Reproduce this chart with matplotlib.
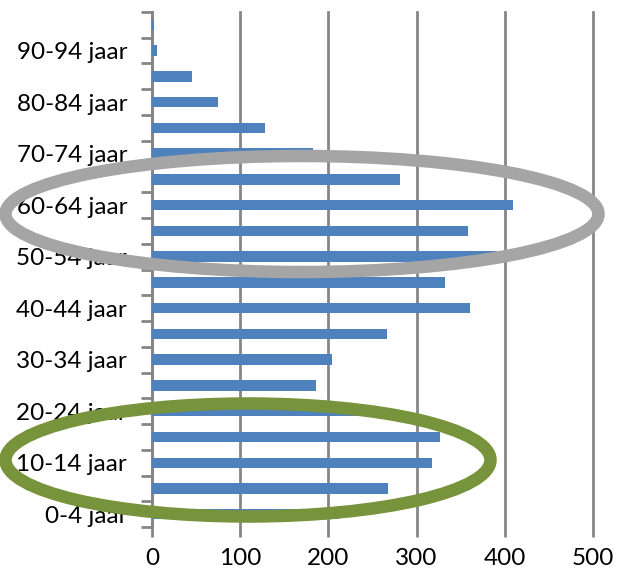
import matplotlib.pyplot as plt
import numpy as np
from matplotlib.patches import Ellipse

groepen = ['0-4 jaar', '5-9 jaar', '10-14 jaar', '15-19 jaar', '20-24 jaar',
           '25-29 jaar', '30-34 jaar', '35-39 jaar', '40-44 jaar', '45-49 jaar',
           '50-54 jaar', '55-59 jaar', '60-64 jaar', '65-69 jaar', '70-74 jaar',
           '75-79 jaar', '80-84 jaar', '85-89 jaar', '90-94 jaar', '95+ jaar']
aantallen = [212, 268, 318, 326, 242, 186, 204, 266, 360, 332,
             391, 358, 409, 281, 182, 128, 75, 45, 6, 2]

plt.rcParams['font.family'] = ['Lato', 'DejaVu Sans']

fig = plt.figure(figsize=(6.17, 5.71), dpi=100)
ax = fig.add_axes([0.2464, 0.077, 0.7147, 0.902])

y = np.arange(len(groepen))
ax.barh(y, aantallen, height=0.4, color='#4F81BD', zorder=3)

ax.set_xlim(0, 500)
ax.set_ylim(-0.5, len(groepen) - 0.5)
ax.set_xticks(np.arange(0, 501, 100))
ax.xaxis.grid(True, color='#868686', linewidth=2, zorder=0)
for gl in ax.get_xgridlines():
    gl.set_clip_on(False)

# labels alleen bij elke tweede groep
ax.set_yticks(y[::2])
ax.set_yticklabels(groepen[::2], fontsize=17.5)
ax.set_yticks(np.arange(-0.5, len(groepen), 1), minor=True)
ax.tick_params(axis='y', which='major', length=0, pad=18)
ax.tick_params(axis='y', which='minor', length=8, width=2, color='#868686')
ax.tick_params(axis='x', length=7, width=2, color='#868686', labelsize=17.5, pad=8)

for s in ['top', 'right', 'bottom']:
    ax.spines[s].set_visible(False)
ax.spines['left'].set_color('#868686')
ax.spines['left'].set_linewidth(2)

# markerende ellipsen
W, H = 617, 571
grijs = Ellipse((302 / W, 1 - 214 / H), 593 / W, 116 / H, transform=fig.transFigure,
                fill=False, edgecolor='#A5A5A5', linewidth=9, zorder=10)
groen = Ellipse((248 / W, 1 - 460 / H), 485 / W, 113 / H, transform=fig.transFigure,
                fill=False, edgecolor='#77933C', linewidth=9, zorder=10)
fig.add_artist(grijs)
fig.add_artist(groen)

plt.savefig('out.png', dpi=100)
